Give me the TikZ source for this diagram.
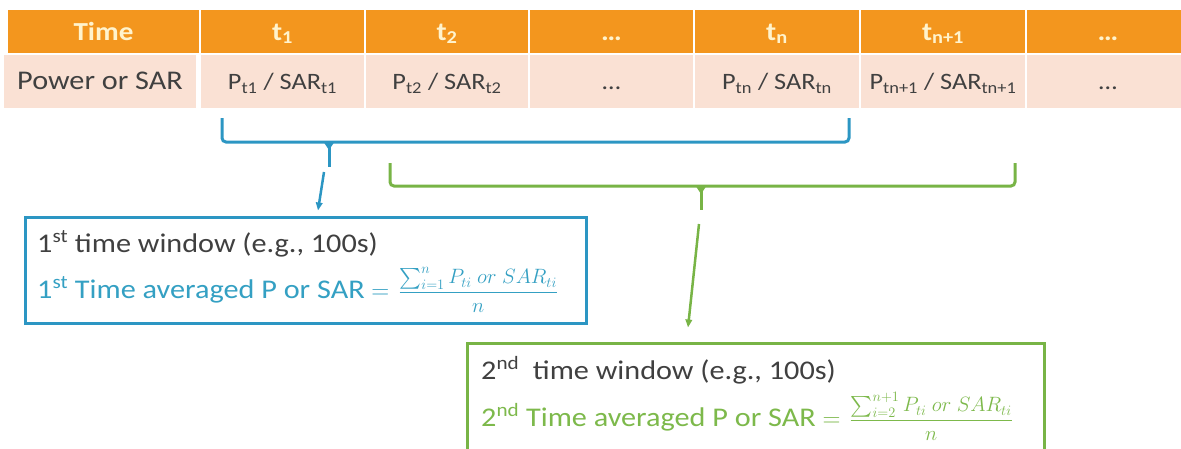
\documentclass[tikz,border=0pt]{standalone}
\usepackage{amsmath}
\usepackage{fontspec}
\setmainfont{Carlito}[FakeStretch=1.12]
\usetikzlibrary{arrows.meta}
\definecolor{orange1}{RGB}{243,150,30}
\definecolor{peach}{RGB}{250,225,212}
\definecolor{cream}{RGB}{255,243,205}
\definecolor{txtgray}{RGB}{64,64,64}
\definecolor{bblue}{RGB}{44,150,195}
\definecolor{btext}{RGB}{52,160,195}
\definecolor{ggreen}{RGB}{120,180,70}
\definecolor{gtext}{RGB}{125,185,75}
\begin{document}
\begin{tikzpicture}[x=1pt,y=-1pt,
  hcell/.style={fill=orange1,draw=white,line width=1.5pt,minimum height=45pt,inner sep=0pt,
    text=cream,font=\bfseries\fontsize{26}{30}\selectfont,text height=17pt,text depth=0pt},
  vcell/.style={fill=peach,draw=white,line width=1.5pt,minimum height=55pt,inner sep=0pt,
    text=txtgray,font=\fontsize{23.5}{28}\selectfont,text height=16pt,text depth=0pt},
  brace/.style={line width=3pt,rounded corners=4pt},
  bluebr/.style={brace,draw=bblue},
  greenbr/.style={brace,draw=ggreen},
  winbox/.style={line width=3pt,inner sep=0pt,fill=white},
  boxtext/.style={anchor=base west,inner sep=0pt,font=\fontsize{27}{32}\selectfont},
  tip/.style={-{Triangle[length=8pt,width=6.5pt]},line width=2.5pt}
]
\useasboundingbox (0,0) rectangle (1181,448);
\clip (0,0) rectangle (1181,448);
% table header
\node[hcell,minimum width=193pt] (h0) at (103.5,31.5) {Time};
\node[hcell,minimum width=165pt] (h1) at (282.5,31.5) {t\textsubscript{1}};
\node[hcell,minimum width=164pt] (h2) at (447,31.5) {t\textsubscript{2}};
\node[hcell,minimum width=165pt] (h3) at (611.5,31.5) {\ldots};
\node[hcell,minimum width=166pt] (h4) at (777,31.5) {t\textsubscript{n}};
\node[hcell,minimum width=166pt] (h5) at (943,31.5) {t\textsubscript{n+1}};
\node[hcell,minimum width=164pt] (h6) at (1108,31.5) {\ldots};
% table values
\node[vcell,minimum width=193pt,font=\fontsize{27}{32}\selectfont] (v0) at (100,81.5) {Power or SAR};
\node[vcell,minimum width=165pt] (v1) at (282.5,81.5) {P\textsubscript{t1} / SAR\textsubscript{t1}};
\node[vcell,minimum width=164pt] (v2) at (447,81.5) {P\textsubscript{t2} / SAR\textsubscript{t2}};
\node[vcell,minimum width=165pt] (v3) at (611.5,81.5) {\ldots};
\node[vcell,minimum width=166pt] (v4) at (777,81.5) {P\textsubscript{tn} / SAR\textsubscript{tn}};
\node[vcell,minimum width=166pt] (v5) at (943,81.5) {P\textsubscript{tn+1} / SAR\textsubscript{tn+1}};
\node[vcell,minimum width=164pt] (v6) at (1108,81.5) {\ldots};
% blue bracket
\coordinate (bl) at (222,118);
\coordinate (br) at (849,118);
\coordinate (bm) at (329,142);
\coordinate (bt) at (329,167);
\draw[bluebr] (bl) |- (bm) -| (br);
\fill[bblue] (323,141) -- (335,141) -- (329,150) -- cycle;
\draw[line width=3pt,draw=bblue] (bm) -- (bt);
% green bracket
\coordinate (gl) at (390,163);
\coordinate (gr) at (1015,163);
\coordinate (gm) at (701,186);
\coordinate (gt) at (701,210);
\draw[greenbr] (gl) |- (gm) -| (gr);
\fill[ggreen] (695,185) -- (707,185) -- (701,194) -- cycle;
\draw[line width=3pt,draw=ggreen] (gm) -- (gt);
% boxes
\node[winbox,draw=bblue,minimum width=561pt,minimum height=106pt] (box1) at (305.5,270) {};
\node[winbox,draw=ggreen,minimum width=577pt,minimum height=110pt] (box2) at (755.5,398) {};
% arrows
\coordinate (a1) at (324,172);
\coordinate (a2) at (699,224);
\draw[tip,draw=bblue] (a1) -- ([xshift=12.5pt,yshift=5pt]box1.north);
\draw[tip,draw=ggreen] (a2) -- ([xshift=-67.5pt,yshift=14pt]box2.north);
% box texts
\node[boxtext,text=txtgray] (b1a) at (37,252) {1\textsuperscript{st} time window (e.g., 100s)};
\node[boxtext,text=btext] (b1b) at (37,298) {1\textsuperscript{st} Time averaged P or SAR {\fontsize{33}{36}\selectfont$=$}\hspace{9pt}{\fontsize{21.5}{26}\selectfont$\dfrac{\textstyle\sum_{i=1}^{n} P_{ti}\ or\ SAR_{ti}}{n}$}};
\node[boxtext,text=txtgray] (b2a) at (481,379) {2\textsuperscript{nd}\ \ time window (e.g., 100s)};
\node[boxtext,text=gtext] (b2b) at (481,426) {2\textsuperscript{nd} Time averaged P or SAR {\fontsize{33}{36}\selectfont$=$}\hspace{9pt}{\fontsize{21.5}{26}\selectfont$\dfrac{\textstyle\sum_{i=2}^{n+1} P_{ti}\ or\ SAR_{ti}}{n}$}};
\end{tikzpicture}
\end{document}
